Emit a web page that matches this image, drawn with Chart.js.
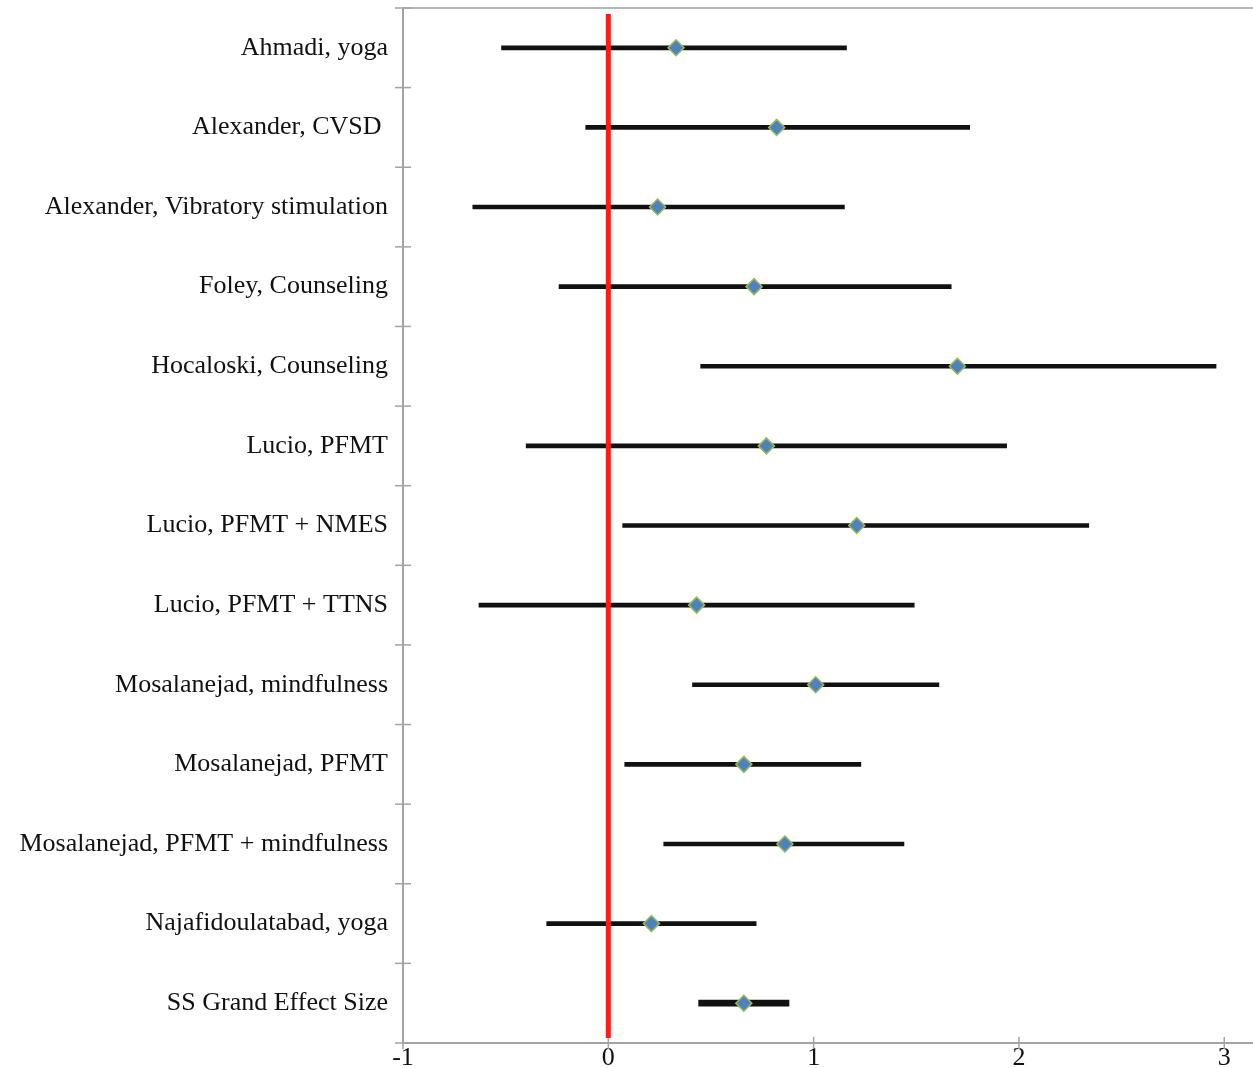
<!DOCTYPE html>
<html>
<head>
<meta charset="utf-8">
<script src="https://cdn.jsdelivr.net/npm/chart.js@4.4.0/dist/chart.umd.min.js"></script>
<style>
  body { margin: 0; background: #fff; }
  #wrap { width: 1253px; height: 1068px; }
</style>
</head>
<body>
<div id="wrap"><canvas id="forestChart"></canvas></div>
<script>
  const studies = [
    'Ahmadi, yoga',
    'Alexander, CVSD ',
    'Alexander, Vibratory stimulation',
    'Foley, Counseling',
    'Hocaloski, Counseling',
    'Lucio, PFMT',
    'Lucio, PFMT + NMES',
    'Lucio, PFMT + TTNS',
    'Mosalanejad, mindfulness',
    'Mosalanejad, PFMT',
    'Mosalanejad, PFMT + mindfulness',
    'Najafidoulatabad, yoga',
    'SS Grand Effect Size'
  ];
  const effect = [0.33, 0.82, 0.24, 0.71, 1.70, 0.77, 1.21, 0.43, 1.01, 0.66, 0.86, 0.21, 0.66];
  const lower  = [-0.52, -0.11, -0.66, -0.24, 0.45, -0.40, 0.07, -0.63, 0.41, 0.08, 0.27, -0.30, 0.44];
  const upper  = [1.16, 1.76, 1.15, 1.67, 2.96, 1.94, 2.34, 1.49, 1.61, 1.23, 1.44, 0.72, 0.88];
  const xTicks = [-1, 0, 1, 2, 3];

  const axisGrey = '#a3a3a3';
  const serif = { family: '"Liberation Serif", "Times New Roman", serif', size: 26 };

  // black CI lines, the grand effect a bit thicker
  const ciStudies = lower.map((lo, i) => i < studies.length - 1 ? [lo, upper[i]] : null);
  const ciGrand = lower.map((lo, i) => i === studies.length - 1 ? [lo, upper[i]] : null);

  const forestLines = {
    id: 'forestLines',
    afterDatasetsDraw(chart) {
      const { ctx, chartArea, scales } = chart;
      const x = scales.x, y = scales.y;
      ctx.save();
      // top border
      ctx.strokeStyle = '#b5b5b5';
      ctx.lineWidth = 2;
      ctx.beginPath();
      ctx.moveTo(chartArea.left, chartArea.top);
      ctx.lineTo(chartArea.right, chartArea.top);
      ctx.stroke();
      // cross ticks between categories
      ctx.strokeStyle = axisGrey;
      ctx.lineWidth = 1.5;
      for (let i = 0; i <= studies.length; i++) {
        const py = y.getPixelForValue(i - 0.5);
        ctx.beginPath();
        ctx.moveTo(chartArea.left - 8, py);
        ctx.lineTo(chartArea.left + 8, py);
        ctx.stroke();
      }
      // cross ticks on the x axis
      xTicks.forEach(v => {
        const px = x.getPixelForValue(v);
        ctx.beginPath();
        ctx.moveTo(px, chartArea.bottom - 6);
        ctx.lineTo(px, chartArea.bottom + 6);
        ctx.stroke();
      });
      // red no-effect line
      const x0 = x.getPixelForValue(0);
      ctx.strokeStyle = '#ff1a1a';
      ctx.lineWidth = 5;
      ctx.beginPath();
      ctx.moveTo(x0, chartArea.top + 6);
      ctx.lineTo(x0, chartArea.bottom - 5);
      ctx.stroke();
      ctx.restore();
    }
  };

  const forestConfig = {
    type: 'bar',
    data: {
      labels: studies,
      datasets: [
        {
          type: 'line',
          indexAxis: 'y',
          data: effect.map((v, i) => ({ x: v, y: studies[i] })),
          showLine: false,
          pointStyle: 'rectRot',
          pointRadius: 8,
          pointBackgroundColor: '#4f81bd',
          pointBorderColor: '#9bbb59',
          pointBorderWidth: 1.5,
          order: 0
        },
        {
          data: ciStudies,
          backgroundColor: '#111',
          barThickness: 4,
          grouped: false,
          order: 2
        },
        {
          data: ciGrand,
          backgroundColor: '#111',
          barThickness: 6,
          grouped: false,
          order: 2
        }
      ]
    },
    options: {
      indexAxis: 'y',
      responsive: true,
      maintainAspectRatio: false,
      animation: false,
      layout: {
        autoPadding: false,
        padding: { top: 8, right: 0, bottom: 0, left: 0 }
      },
      plugins: {
        legend: { display: false },
        tooltip: { enabled: false }
      },
      scales: {
        x: {
          type: 'linear',
          min: -1,
          max: 3.14,
          grid: { display: false, drawTicks: false, tickLength: 0 },
          border: { color: axisGrey, width: 2 },
          ticks: {
            stepSize: 1,
            includeBounds: false,
            padding: 0,
            maxRotation: 0,
            color: '#111',
            font: serif
          },
          afterFit(scale) {
            scale.height = 25;
            scale.paddingLeft = 0;
            scale.paddingRight = 0;
          }
        },
        y: {
          type: 'category',
          offset: true,
          grid: { display: false, drawTicks: false, tickLength: 0 },
          border: { color: axisGrey, width: 2 },
          ticks: {
            padding: 15,
            color: '#111',
            font: serif,
            autoSkip: false
          },
          afterFit(scale) {
            scale.width = 403;
            scale.paddingTop = 0;
            scale.paddingBottom = 0;
          }
        }
      }
    },
    plugins: [forestLines]
  };

  const forestChart = new Chart(
    document.getElementById('forestChart'),
    forestConfig
  );
</script>
</body>
</html>
